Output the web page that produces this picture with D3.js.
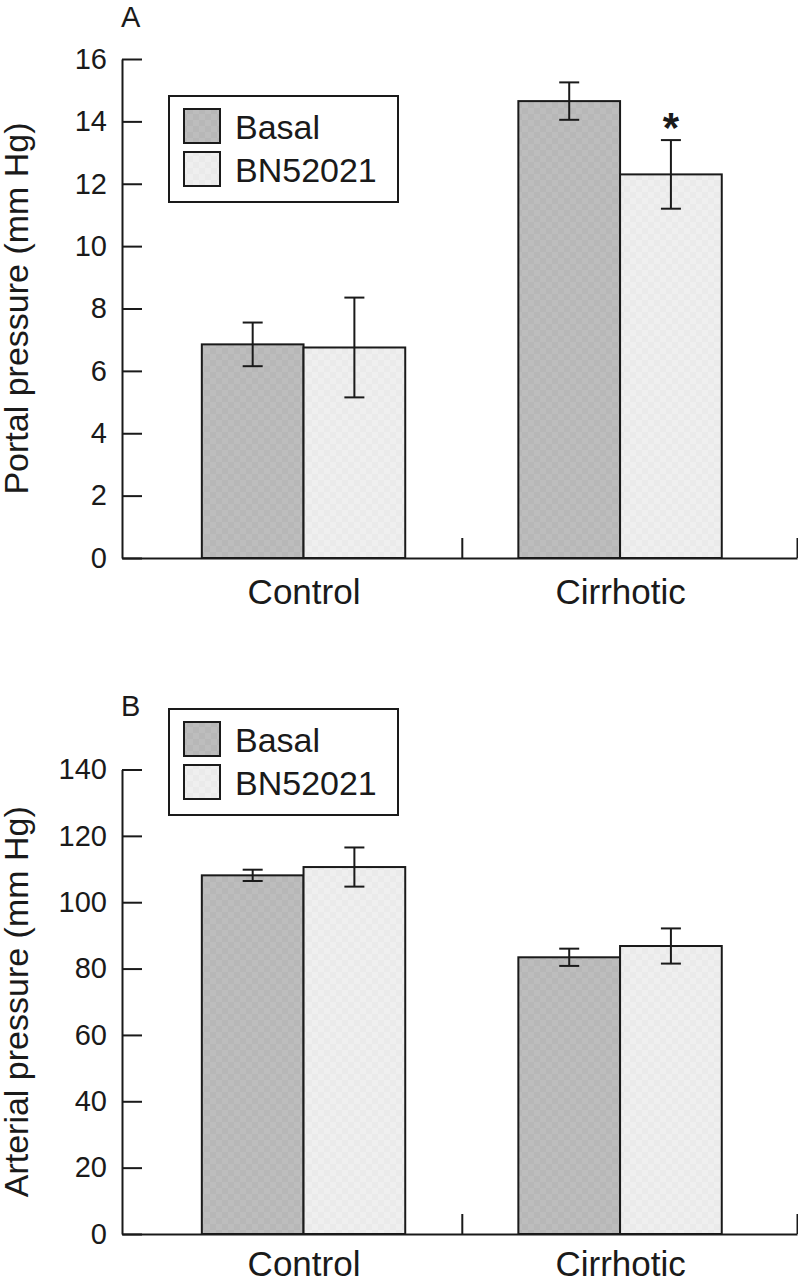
<!DOCTYPE html>
<html>
<head>
<meta charset="utf-8">
<script src="https://cdn.jsdelivr.net/npm/d3@7"></script>
<style>
  body { margin: 0; background: #fff; }
  svg { display: block; font-family: "Liberation Sans", Arial, sans-serif; }
</style>
</head>
<body>
<svg id="chart"></svg>
<script>
// categories / series
const groups = ["Control", "Cirrhotic"];
const series = ["Basal", "BN52021"];

// panel A: portal pressure (mm Hg), mean and error
const portalBasal = [6.85, 14.65];
const portalBasalErr = [0.7, 0.6];
const portalBN = [6.75, 12.3];
const portalBNErr = [1.6, 1.1];
const portalStar = [false, true];   // significance mark on BN52021
const portalTicks = [0, 2, 4, 6, 8, 10, 12, 14, 16];

// panel B: arterial pressure (mm Hg)
const arterialBasal = [108.1, 83.4];
const arterialBasalErr = [1.7, 2.6];
const arterialBN = [110.6, 86.8];
const arterialBNErr = [5.9, 5.3];
const arterialStar = [false, false];
const arterialTicks = [0, 20, 40, 60, 80, 100, 120, 140];

const W = 798, H = 1280;
const svg = d3.select("#chart").attr("width", W).attr("height", H);

// subtle checker fills like the printed figure
const defs = svg.append("defs");
function checker(id, a, b) {
  const p = defs.append("pattern")
    .attr("id", id).attr("patternUnits", "userSpaceOnUse")
    .attr("width", 12).attr("height", 12);
  p.append("rect").attr("width", 12).attr("height", 12).attr("fill", a);
  p.append("rect").attr("width", 6).attr("height", 6).attr("fill", b);
  p.append("rect").attr("x", 6).attr("y", 6).attr("width", 6).attr("height", 6).attr("fill", b);
}
checker("fillBasal", "#b7b7b7", "#bdbdbd");
checker("fillBN", "#eaeaea", "#efefef");
const fills = { "Basal": "url(#fillBasal)", "BN52021": "url(#fillBN)" };

const ink = "#1a1a1a";
const axisLeftX = 122, axisRightX = 797;

// group centres at 1 and 2, axis reaching a bit past each side
const x = d3.scaleLinear().domain([0.4265, 2.559]).range([axisLeftX, axisRightX]);
const barW = 0.3213;

function drawPanel(o) {
  const y = d3.scaleLinear().domain([0, d3.max(o.ticks)]).range([o.bottom, o.top]);
  const g = svg.append("g");

  const rows = [];
  groups.forEach((grp, i) => {
    rows.push({ grp, i, s: "Basal", v: o.basal[i], e: o.basalErr[i], x0: i + 1 - barW, star: false });
    rows.push({ grp, i, s: "BN52021", v: o.bn[i], e: o.bnErr[i], x0: i + 1, star: o.star[i] });
  });
  const cx = d => x(d.x0 + barW / 2);

  // bars
  g.selectAll("rect.bar")
    .data(rows)
    .join("rect")
    .attr("class", "bar")
    .attr("x", d => x(d.x0))
    .attr("width", d => x(d.x0 + barW) - x(d.x0))
    .attr("y", d => y(d.v))
    .attr("height", d => y(0) - y(d.v))
    .attr("fill", d => fills[d.s])
    .attr("stroke", ink)
    .attr("stroke-width", 2);

  // error bars
  const eb = g.selectAll("g.err")
    .data(rows)
    .join("g")
    .attr("class", "err")
    .attr("stroke", ink)
    .attr("stroke-width", 2);
  eb.append("line")
    .attr("x1", cx).attr("x2", cx)
    .attr("y1", d => y(d.v + d.e)).attr("y2", d => y(d.v - d.e));
  eb.append("line")
    .attr("x1", d => cx(d) - 10).attr("x2", d => cx(d) + 10)
    .attr("y1", d => y(d.v + d.e)).attr("y2", d => y(d.v + d.e));
  eb.append("line")
    .attr("x1", d => cx(d) - 10).attr("x2", d => cx(d) + 10)
    .attr("y1", d => y(d.v - d.e)).attr("y2", d => y(d.v - d.e));

  // significance asterisk
  g.selectAll("text.star")
    .data(rows.filter(d => d.star))
    .join("text")
    .attr("class", "star")
    .attr("x", cx)
    .attr("y", d => y(d.v + d.e) + 2)
    .attr("text-anchor", "middle")
    .style("font-size", "42px")
    .style("font-weight", 700)
    .attr("fill", ink)
    .text("*");

  // y axis, ticks pointing inward
  const ya = g.append("g")
    .attr("transform", `translate(${axisLeftX},0)`)
    .call(d3.axisLeft(y).tickValues(o.ticks).tickSizeInner(-20).tickSizeOuter(0).tickPadding(15));
  ya.selectAll("path, line").attr("stroke", ink).attr("stroke-width", 2);
  ya.selectAll("text").attr("fill", ink).style("font-size", "29px");
  ya.attr("font-family", null).attr("font-size", null);

  // x axis line with separator ticks pointing up
  const xa = g.append("g")
    .attr("transform", `translate(0,${o.bottom})`)
    .call(d3.axisBottom(x).tickValues([1.5, x.domain()[1]]).tickSizeInner(-20).tickSizeOuter(0).tickFormat(""));
  xa.selectAll("path, line").attr("stroke", ink).attr("stroke-width", 2);

  // category labels
  const xl = g.append("g")
    .attr("transform", `translate(0,${o.bottom})`)
    .call(d3.axisBottom(x).tickValues([1, 2]).tickSize(0).tickPadding(o.labelPad)
      .tickFormat(d => groups[d - 1]));
  xl.select(".domain").remove();
  xl.selectAll("text").attr("fill", ink).style("font-size", "35px");
  xl.attr("font-family", null).attr("font-size", null);

  // y axis title
  g.append("text")
    .attr("transform", `translate(28,${(o.top + o.bottom) / 2}) rotate(-90)`)
    .attr("text-anchor", "middle")
    .attr("fill", ink)
    .style("font-size", "34px")
    .text(o.title);

  // panel letter
  g.append("text")
    .attr("x", 121).attr("y", o.letterY)
    .attr("fill", ink)
    .style("font-size", "29px")
    .text(o.letter);

  // legend
  const lg = g.append("g").attr("transform", `translate(169,${o.legendY})`);
  lg.append("rect")
    .attr("width", 229).attr("height", 106)
    .attr("fill", "#fff").attr("stroke", ink).attr("stroke-width", 2);
  series.forEach((s, i) => {
    lg.append("rect")
      .attr("x", 15).attr("y", 13 + i * 43)
      .attr("width", 36).attr("height", 34)
      .attr("fill", fills[s]).attr("stroke", ink).attr("stroke-width", 2);
    lg.append("text")
      .attr("x", 66).attr("y", 43 + i * 43)
      .attr("fill", ink)
      .style("font-size", "34px")
      .text(s);
  });
}

drawPanel({
  letter: "A", letterY: 27, legendY: 96,
  top: 59, bottom: 558, labelPad: 21,
  ticks: portalTicks,
  basal: portalBasal, basalErr: portalBasalErr,
  bn: portalBN, bnErr: portalBNErr, star: portalStar,
  title: "Portal pressure (mm Hg)"
});

drawPanel({
  letter: "B", letterY: 716, legendY: 709,
  top: 769.5, bottom: 1234, labelPad: 17,
  ticks: arterialTicks,
  basal: arterialBasal, basalErr: arterialBasalErr,
  bn: arterialBN, bnErr: arterialBNErr, star: arterialStar,
  title: "Arterial pressure (mm Hg)"
});
</script>
</body>
</html>
